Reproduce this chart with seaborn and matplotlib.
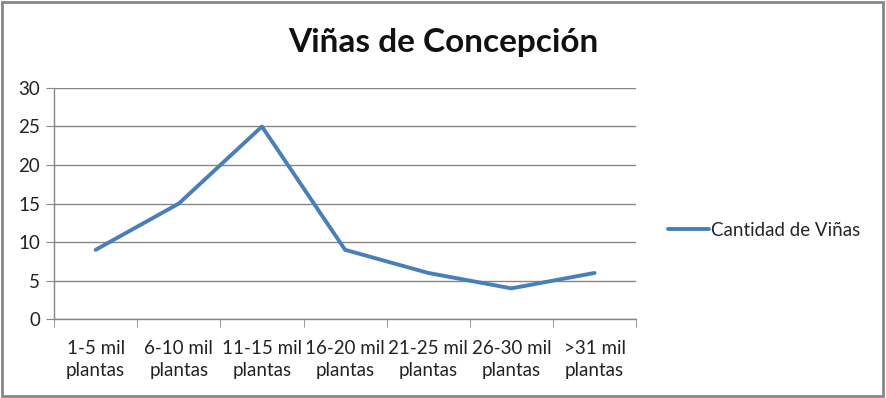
import pandas as pd
from matplotlib import pyplot as plt
from matplotlib.patches import Rectangle
import seaborn as sns

# data
categories = ['1-5 mil\nplantas', '6-10 mil\nplantas', '11-15 mil\nplantas',
              '16-20 mil\nplantas', '21-25 mil\nplantas', '26-30 mil\nplantas',
              '>31 mil\nplantas']
vinas = [9, 15, 25, 9, 6, 4, 6]
y_ticks = [0, 5, 10, 15, 20, 25, 30]


def plot_chart(df):
    sns.set_style('white')
    plt.rcParams['font.family'] = ['Lato', 'DejaVu Sans']

    fig = plt.figure(figsize=(8.86, 3.98), dpi=100)
    ax = fig.add_axes([0.061, 0.198, 0.657, 0.581])

    sns.lineplot(x='Categoria', y='Cantidad', data=df, ax=ax, sort=False,
                 color='#4A7EBB', linewidth=2.8, label='Cantidad de Viñas')

    ax.set_ylim(0, 30)
    ax.set_yticks(y_ticks)
    ax.set_xlim(-0.5, len(categories) - 0.5)
    ax.set_xticks(range(len(categories)))
    ax.set_xticklabels(categories, linespacing=1.35)
    ax.set_xticks([i - 0.5 for i in range(len(categories) + 1)], minor=True)
    ax.tick_params(axis='x', which='major', length=0, pad=15, labelsize=13.5,
                   colors='#222222')
    ax.tick_params(axis='x', which='minor', length=6, color='#868686',
                   bottom=True)
    ax.tick_params(axis='y', length=6, color='#868686', left=True,
                   labelsize=13.5, colors='#222222', pad=4)
    ax.yaxis.grid(True, color='#868686', linewidth=1)
    ax.set_axisbelow(True)
    for s in ['top', 'right']:
        ax.spines[s].set_visible(False)
    for s in ['left', 'bottom']:
        ax.spines[s].set_color('#868686')
        ax.spines[s].set_linewidth(1)
    ax.set_xlabel('')
    ax.set_ylabel('')

    ax.legend(loc='center left', bbox_to_anchor=(0.735, 0.422),
              bbox_transform=fig.transFigure, frameon=False, fontsize=13.5,
              handlelength=2.2, handletextpad=0.1)

    fig.text(0.5, 0.892, 'Viñas de Concepción', ha='center', va='center',
             fontsize=24, fontweight='bold', color='#111111')

    fig.patches.append(Rectangle((0.002, 0.004), 0.995, 0.992,
                                 transform=fig.transFigure, fill=False,
                                 edgecolor='#868686', linewidth=2))
    fig.savefig('out.png', dpi=100)


def main():
    df = pd.DataFrame({'Categoria': categories, 'Cantidad': vinas})
    plot_chart(df)


if __name__ == "__main__":
    main()
